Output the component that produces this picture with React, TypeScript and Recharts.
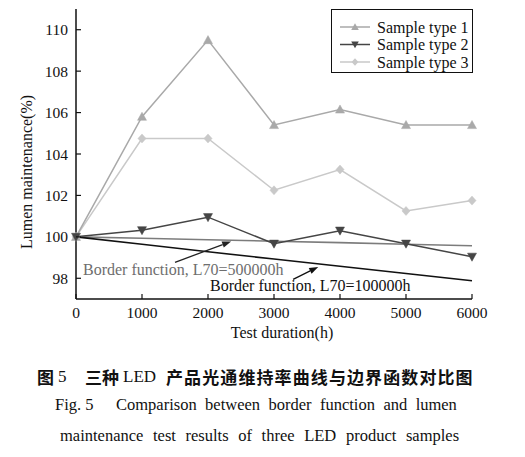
import React from "react";
import {
  LineChart,
  Line,
  XAxis,
  YAxis,
  Legend,
  ReferenceLine,
  ReferenceDot,
} from "recharts";

const hours = [0, 1000, 2000, 3000, 4000, 5000, 6000];
const sample1 = [100, 105.8, 109.5, 105.4, 106.15, 105.4, 105.4];
const sample2 = [100, 100.32, 100.95, 99.67, 100.3, 99.67, 99.04];
const sample3 = [100, 104.75, 104.75, 102.25, 103.25, 101.25, 101.75];
const border500k = [100, 99.93, 99.86, 99.79, 99.72, 99.64, 99.57];
const border100k = [100, 99.64, 99.28, 98.93, 98.58, 98.23, 97.88];

const xTicks = [0, 1000, 2000, 3000, 4000, 5000, 6000];
const yTicks = [98, 100, 102, 104, 106, 108, 110];

const seriesNames = ["Sample type 1", "Sample type 2", "Sample type 3"];
const note500k = "Border function, L70=500000h";
const note100k = "Border function, L70=100000h";

const data = hours.map((h, i) => ({
  h,
  s1: sample1[i],
  s2: sample2[i],
  s3: sample3[i],
  b1: border500k[i],
  b2: border100k[i],
}));

const SERIF = '"Liberation Serif", "Times New Roman", serif';
const CJK = '"Noto Sans CJK SC", sans-serif';

const C1 = "#a9a9a9";
const C2 = "#454545";
const C3 = "#c9c9c9";
const CB1 = "#7c7c7c";
const CB2 = "#111111";

type Shape = "up" | "down" | "diamond";

function markerPath(shape: Shape, cx: number, cy: number, s: number) {
  if (shape === "up")
    return `M${cx},${cy - s} L${cx + s},${cy + s * 0.8} L${cx - s},${cy + s * 0.8} Z`;
  if (shape === "down")
    return `M${cx},${cy + s} L${cx + s},${cy - s * 0.8} L${cx - s},${cy - s * 0.8} Z`;
  return `M${cx},${cy - s} L${cx + s * 0.9},${cy} L${cx},${cy + s} L${cx - s * 0.9},${cy} Z`;
}

const makeDot = (shape: Shape, color: string) => (props: any) => {
  const { cx, cy, index } = props;
  if (cx == null || cy == null) return <g key={index} />;
  return <path key={index} d={markerPath(shape, cx, cy, 4.5)} fill={color} stroke={color} strokeWidth={0.5} />;
};

const XTick = (props: any) => {
  const { x, y, payload } = props;
  return (
    <g>
      <line x1={x} x2={x} y1={y} y2={y - 5} stroke="#111" strokeWidth={1.2} />
      <text x={x} y={y + 19} textAnchor="middle" fontFamily={SERIF} fontSize={15.5} fill="#111">
        {payload.value}
      </text>
    </g>
  );
};

const YTick = (props: any) => {
  const { x, y, payload } = props;
  return (
    <g>
      <line x1={x} x2={x + 5} y1={y} y2={y} stroke="#111" strokeWidth={1.2} />
      <text x={x - 8} y={y + 5.5} textAnchor="end" fontFamily={SERIF} fontSize={15.5} fill="#111">
        {payload.value}
      </text>
    </g>
  );
};

const legendItems: { name: string; color: string; shape: Shape }[] = [
  { name: seriesNames[0], color: C1, shape: "up" },
  { name: seriesNames[1], color: C2, shape: "down" },
  { name: seriesNames[2], color: C3, shape: "diamond" },
];

const LegendBox = () => (
  <div
    style={{
      width: 142,
      height: 64,
      boxSizing: "border-box",
      border: "1.5px solid #111",
      background: "#fff",
      position: "relative",
    }}
  >
    <svg width={142} height={64} style={{ position: "absolute", left: -1.5, top: -1.5 }}>
      {legendItems.map((it, i) => {
        const cy = 18 + i * 17.5;
        return (
          <g key={it.name}>
            <line x1={9} x2={39} y1={cy} y2={cy} stroke={it.color} strokeWidth={1.5} />
            <path d={markerPath(it.shape, 24, cy, 3.8)} fill={it.color} />
            <text x={46} y={cy + 5.5} fontFamily={SERIF} fontSize={16} fill="#111">
              {it.name}
            </text>
          </g>
        );
      })}
    </svg>
  </div>
);

const Arrow = (color: string) => (props: any) => {
  const { x1, y1, x2, y2 } = props;
  const ang = Math.atan2(y2 - y1, x2 - x1);
  const L = 9;
  const W = 3.2;
  const bx = x2 - L * Math.cos(ang);
  const by = y2 - L * Math.sin(ang);
  const px = -Math.sin(ang) * W;
  const py = Math.cos(ang) * W;
  return (
    <g>
      <line x1={x1} y1={y1} x2={bx} y2={by} stroke={color} strokeWidth={1.3} />
      <polygon points={`${x2},${y2} ${bx + px},${by + py} ${bx - px},${by - py}`} fill={color} />
    </g>
  );
};

const NoteText = (text: string, color: string) => (props: any) => {
  const { cx, cy } = props;
  return (
    <text x={cx} y={cy} fontFamily={SERIF} fontSize={16} fill={color} textAnchor="start">
      {text}
    </text>
  );
};

const captionBase: React.CSSProperties = {
  position: "absolute",
  lineHeight: "22px",
  whiteSpace: "pre",
  color: "#111",
};

export default function App() {
  return (
    <div
      style={{
        position: "absolute",
        left: 0,
        top: 0,
        width: 525,
        height: 457,
        background: "#fff",
        overflow: "hidden",
      }}
    >
      <LineChart
        width={525}
        height={457}
        data={data}
        margin={{ top: 9, right: 53, bottom: 128, left: 36 }}
      >
        <XAxis
          dataKey="h"
          type="number"
          domain={[0, 6000]}
          ticks={xTicks}
          interval={0}
          height={30}
          tickSize={0}
          tickMargin={0}
          tickLine={false}
          tick={<XTick />}
          axisLine={{ stroke: "#111", strokeWidth: 1.5 }}
          label={{
            content: () => (
              <text x={282} y={338} textAnchor="middle" fontFamily={SERIF} fontSize={16} fill="#111">
                Test duration(h)
              </text>
            ),
          }}
        />
        <YAxis
          type="number"
          domain={[97, 111]}
          ticks={yTicks}
          interval={0}
          width={40}
          tickSize={0}
          tickMargin={0}
          tickLine={false}
          tick={<YTick />}
          axisLine={{ stroke: "#111", strokeWidth: 1.5 }}
          label={{
            content: () => (
              <text
                x={32}
                y={172}
                transform="rotate(-90 32 172)"
                textAnchor="middle"
                fontFamily={SERIF}
                fontSize={16}
                fill="#111"
              >
                Lumen maintenance(%)
              </text>
            ),
          }}
        />
        <Line
          dataKey="b1"
          stroke={CB1}
          strokeWidth={1.6}
          dot={false}
          isAnimationActive={false}
          legendType="none"
        />
        <Line
          dataKey="b2"
          stroke={CB2}
          strokeWidth={1.6}
          dot={false}
          isAnimationActive={false}
          legendType="none"
        />
        <Line
          dataKey="s3"
          name={seriesNames[2]}
          stroke={C3}
          strokeWidth={1.5}
          dot={makeDot("diamond", C3)}
          isAnimationActive={false}
        />
        <Line
          dataKey="s1"
          name={seriesNames[0]}
          stroke={C1}
          strokeWidth={1.5}
          dot={makeDot("up", C1)}
          isAnimationActive={false}
        />
        <Line
          dataKey="s2"
          name={seriesNames[1]}
          stroke={C2}
          strokeWidth={1.5}
          dot={makeDot("down", C2)}
          isAnimationActive={false}
        />
        <ReferenceLine
          segment={[
            { x: 1500, y: 98.77 },
            { x: 2350, y: 99.78 },
          ]}
          shape={Arrow("#222")}
        />
        <ReferenceLine
          segment={[
            { x: 3290, y: 97.95 },
            { x: 3670, y: 98.55 },
          ]}
          shape={Arrow("#111")}
        />
        <ReferenceDot x={106} y={98.15} r={0} shape={NoteText(note500k, "#6e6e6e")} />
        <ReferenceDot x={2030} y={97.38} r={0} ifOverflow="visible" shape={NoteText(note100k, "#111")} />
        <Legend
          layout="vertical"
          align="center"
          verticalAlign="middle"
          content={() => <LegendBox />}
          wrapperStyle={{ left: 331, top: 9, width: 142, height: 64 }}
        />
      </LineChart>

      {/* Chinese caption */}
      <div style={{ ...captionBase, left: 37, top: 366, fontSize: 17, fontFamily: CJK, fontWeight: 700 }}>图</div>
      <div style={{ ...captionBase, left: 58, top: 366, fontSize: 17, fontFamily: SERIF }}>5</div>
      <div style={{ ...captionBase, left: 85, top: 366, fontSize: 17, fontFamily: CJK, fontWeight: 700 }}>三种</div>
      <div style={{ ...captionBase, left: 123, top: 366, fontSize: 17, fontFamily: SERIF }}>LED</div>
      <div style={{ ...captionBase, left: 166, top: 366, fontSize: 17, fontFamily: CJK, fontWeight: 700, letterSpacing: 1.1 }}>
        产品光通维持率曲线与边界函数对比图
      </div>

      {/* English caption */}
      <div style={{ ...captionBase, left: 55, top: 394, fontSize: 16.5, fontFamily: SERIF }}>Fig. 5</div>
      <div style={{ ...captionBase, left: 116, top: 394, fontSize: 16.5, fontFamily: SERIF, wordSpacing: 4.3 }}>
        Comparison between border function and lumen
      </div>
      <div style={{ ...captionBase, left: 60, top: 425, fontSize: 16.5, fontFamily: SERIF, wordSpacing: 5.5 }}>
        maintenance test results of three LED product samples
      </div>
    </div>
  );
}
